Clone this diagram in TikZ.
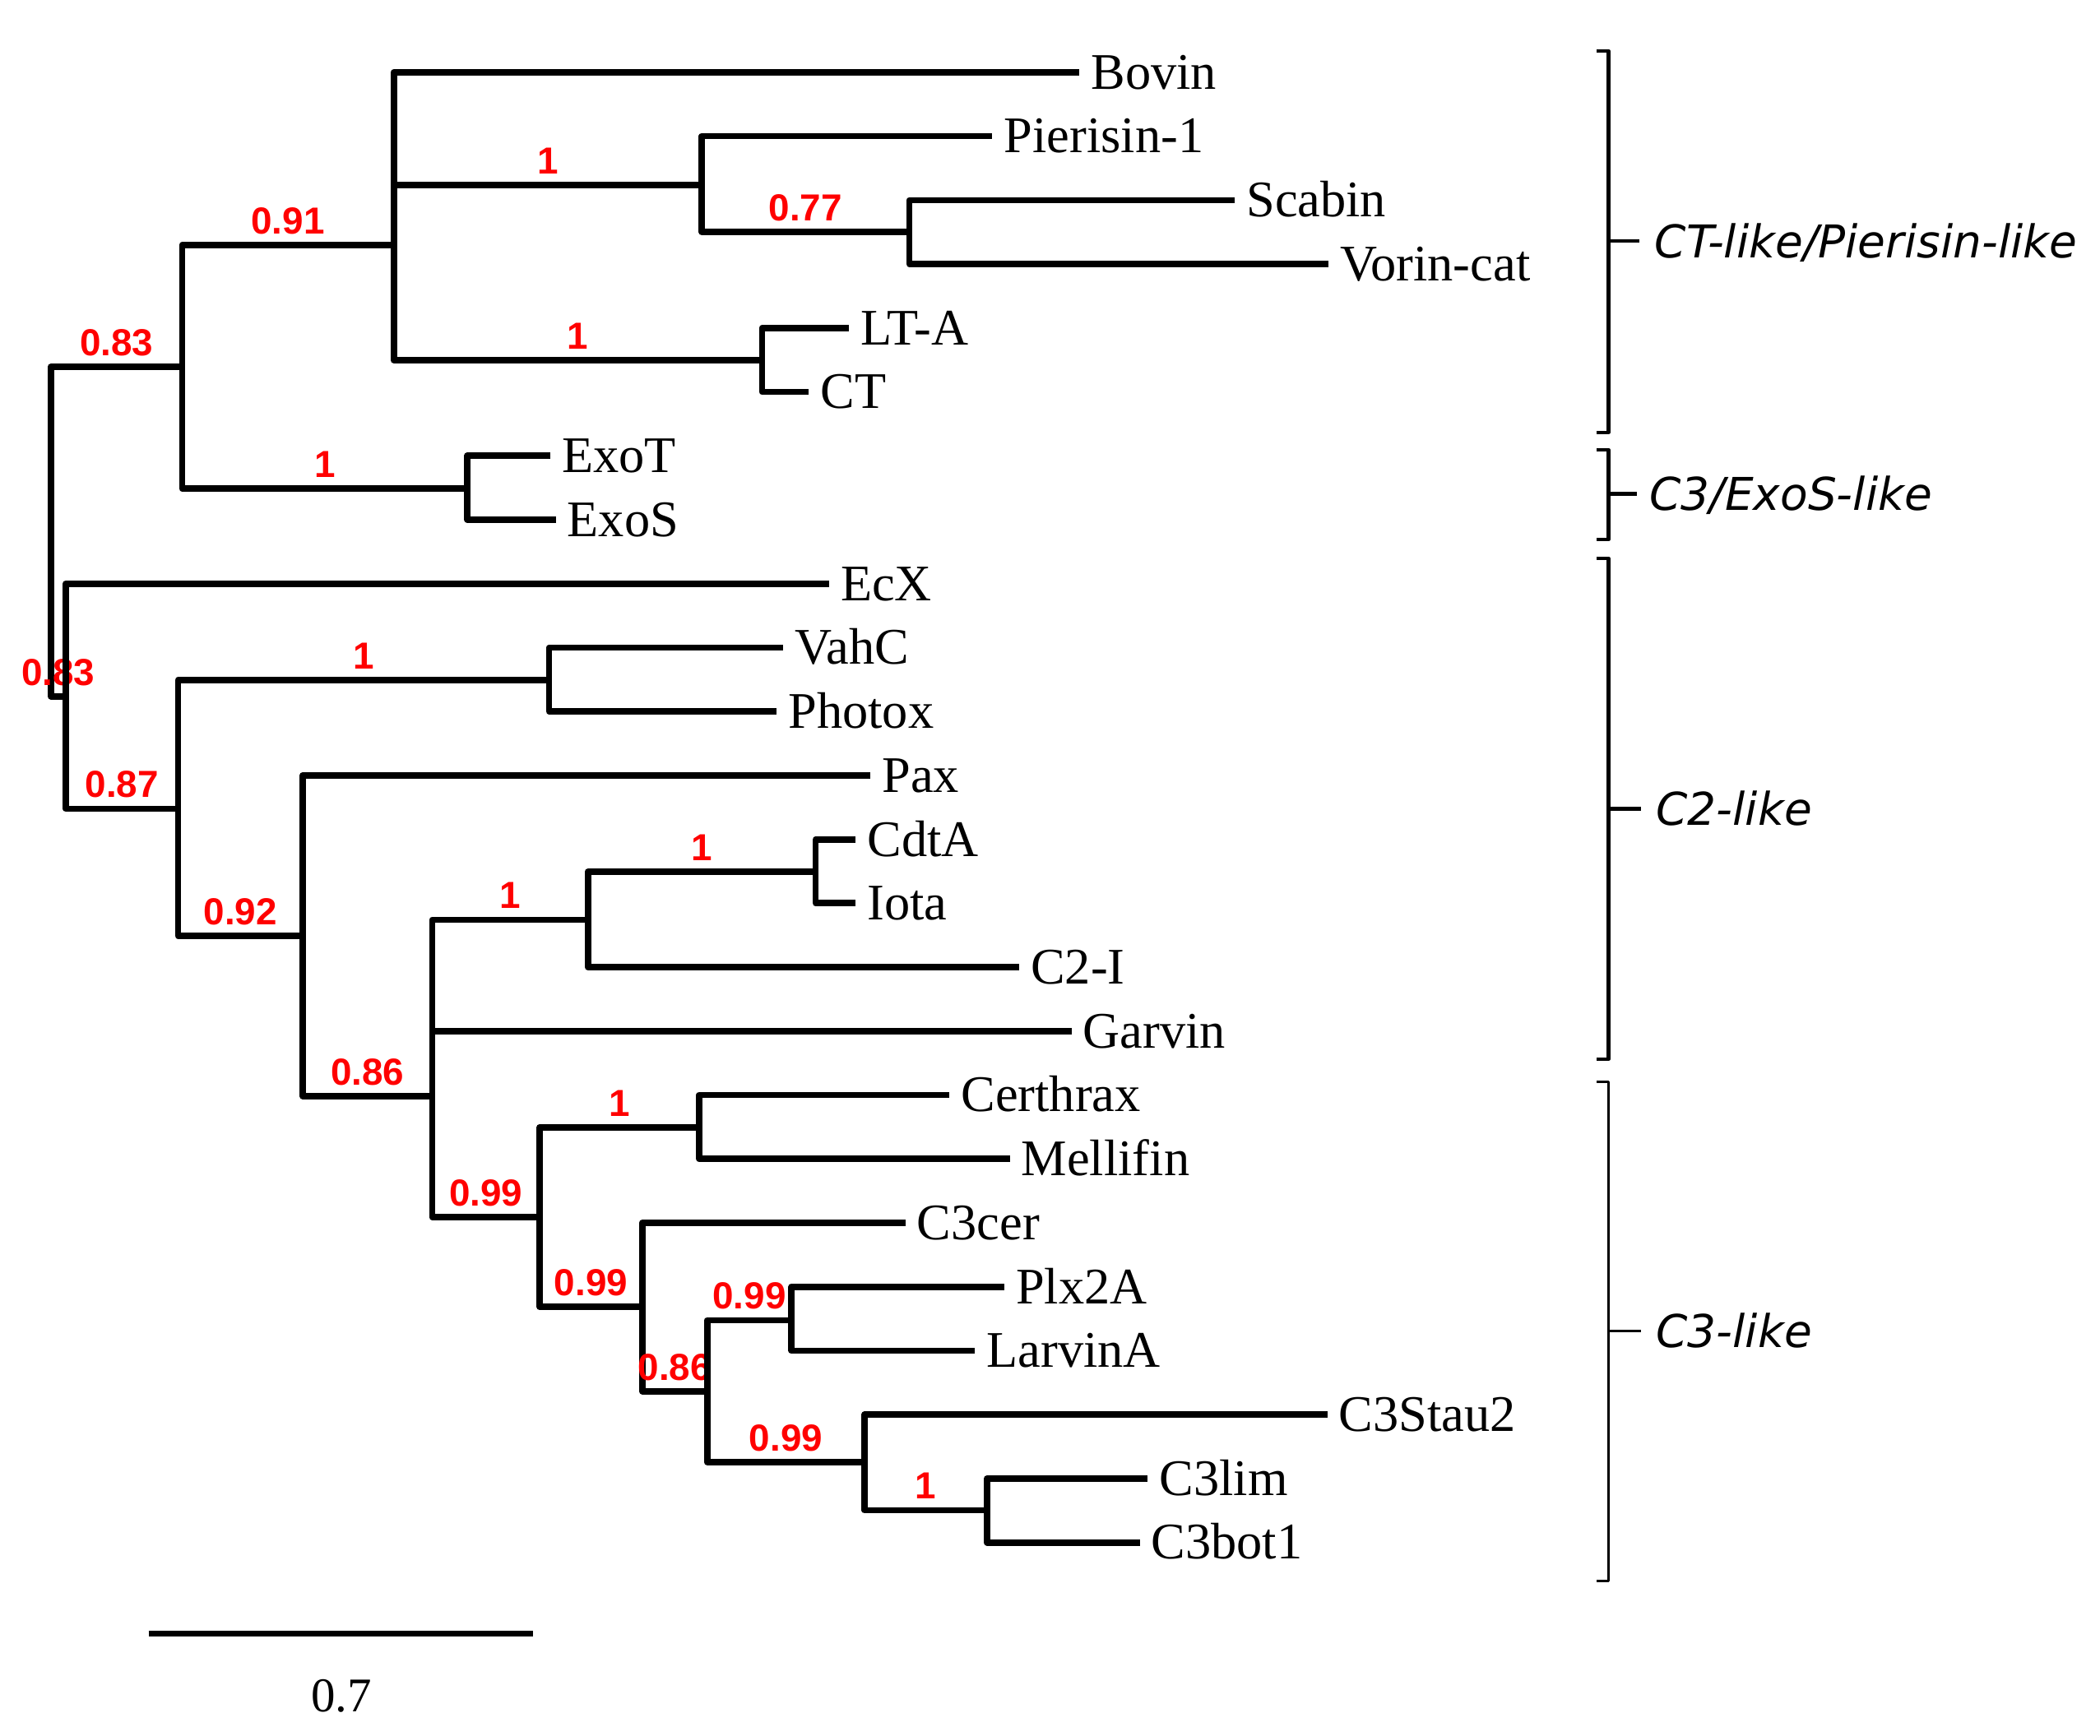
\documentclass[tikz,border=0pt]{standalone}
\usepackage{fontspec}
\setmainfont{Liberation Serif}
\newfontfamily\numfont{Liberation Sans}
\newfontfamily\cladefont{DejaVu Sans}
\begin{document}
\begin{tikzpicture}[x=0.1mm, y=-0.1mm,
  br/.style={line width=1.35pt, line join=round},
  brk/.style={line width=0.8pt, line join=round},
  brkthin/.style={line width=0.55pt, line join=round},
  leaf/.style={anchor=west, inner xsep=0.8mm, inner ysep=0pt,
    font=\fontsize{10.9}{12}\selectfont, text height=7.1pt, text depth=0pt},
  bsup/.style={pos=0.75, anchor=south, inner sep=0pt, yshift=0.6mm, text=red,
    font=\numfont\bfseries\fontsize{8}{9}\selectfont, text height=5.8pt, text depth=0pt},
  clade/.style={anchor=west, inner xsep=1.1mm, inner ysep=0pt,
    font=\cladefont\itshape\fontsize{9.6}{11}\selectfont, text height=7pt, text depth=0pt},
  scalelab/.style={inner sep=0pt, font=\fontsize{10.3}{12}\selectfont, text height=6.8pt, text depth=0pt}
]
\useasboundingbox (0,0) rectangle (1568,1296);

% internal nodes (x of node, y of incoming branch)
\coordinate (root)  at (38,397);
\coordinate (nA)    at (136,274);
\coordinate (n091)  at (294,183);
\coordinate (nPier) at (524,138);
\coordinate (nSV)   at (679,173);
\coordinate (nLTCT) at (569,269);
\coordinate (nExo)  at (349,365);
\coordinate (nB)    at (49,520);
\coordinate (n087)  at (133,604);
\coordinate (nVP)   at (410,508);
\coordinate (n092)  at (226,699);
\coordinate (n086)  at (322.7,818.5);
\coordinate (nC2)   at (439,687);
\coordinate (nCI)   at (609,651);
\coordinate (n099a) at (403,909);
\coordinate (nCM)   at (522,842);
\coordinate (n099b) at (479.5,976);
\coordinate (n086b) at (528,1039);
\coordinate (nPL)   at (591,986);
\coordinate (n099d) at (645.6,1092);
\coordinate (nC3C)  at (737,1128);

% leaves
\node[leaf] (bovin)    at (806,54)     {Bovin};
\node[leaf] (pierisin) at (741,101.7)  {Pierisin-1};
\node[leaf] (scabin)   at (922,149.5)  {Scabin};
\node[leaf] (vorin)    at (992,197.2)  {Vorin-cat};
\node[leaf] (lta)      at (634,245)    {LT-A};
\node[leaf] (ct)       at (604,292.7)  {CT};
\node[leaf] (exot)     at (411,340.4)  {ExoT};
\node[leaf] (exos)     at (415,388.2)  {ExoS};
\node[leaf] (ecx)      at (619,435.9)  {EcX};
\node[leaf] (vahc)     at (585,483.7)  {VahC};
\node[leaf] (photox)   at (580,531.4)  {Photox};
\node[leaf] (pax)      at (650,579.1)  {Pax};
\node[leaf] (cdta)     at (639,626.9)  {CdtA};
\node[leaf] (iota)     at (639,674.6)  {Iota};
\node[leaf] (c2i)      at (761,722.4)  {C2-I};
\node[leaf] (garvin)   at (800,770.1)  {Garvin};
\node[leaf] (certhrax) at (709,817.8)  {Certhrax};
\node[leaf] (mellifin) at (754,865.6)  {Mellifin};
\node[leaf] (c3cer)    at (676,913.3)  {C3cer};
\node[leaf] (plx2a)    at (750,961.1)  {Plx2A};
\node[leaf] (larvina)  at (728,1008.8) {LarvinA};
\node[leaf] (c3stau2)  at (991,1056.5) {C3Stau2};
\node[leaf] (c3lim)    at (857,1104.3) {C3lim};
\node[leaf] (c3bot1)   at (851,1152)   {C3bot1};

% branches
\draw[br] (root) |- node[bsup]{0.83} (nA);
\draw[br] (root) |- node[bsup]{0.83} (nB);
\draw[br] (nA) |- node[bsup]{0.91} (n091);
\draw[br] (nA) |- node[bsup]{1} (nExo);
\draw[br] (n091) |- (bovin.west);
\draw[br] (n091) |- node[bsup]{1} (nPier);
\draw[br] (n091) |- node[bsup]{1} (nLTCT);
\draw[br] (nPier) |- (pierisin.west);
\draw[br] (nPier) |- node[bsup]{0.77} (nSV);
\draw[br] (nSV) |- (scabin.west);
\draw[br] (nSV) |- (vorin.west);
\draw[br] (nLTCT) |- (lta.west);
\draw[br] (nLTCT) |- (ct.west);
\draw[br] (nExo) |- (exot.west);
\draw[br] (nExo) |- (exos.west);
\draw[br] (nB) |- (ecx.west);
\draw[br] (nB) |- node[bsup]{0.87} (n087);
\draw[br] (n087) |- node[bsup]{1} (nVP);
\draw[br] (n087) |- node[bsup]{0.92} (n092);
\draw[br] (nVP) |- (vahc.west);
\draw[br] (nVP) |- (photox.west);
\draw[br] (n092) |- (pax.west);
\draw[br] (n092) |- node[bsup]{0.86} (n086);
\draw[br] (n086) |- node[bsup]{1} (nC2);
\draw[br] (n086) |- (garvin.west);
\draw[br] (n086) |- node[bsup]{0.99} (n099a);
\draw[br] (nC2) |- node[bsup]{1} (nCI);
\draw[br] (nC2) |- (c2i.west);
\draw[br] (nCI) |- (cdta.west);
\draw[br] (nCI) |- (iota.west);
\draw[br] (n099a) |- node[bsup]{1} (nCM);
\draw[br] (n099a) |- node[bsup]{0.99} (n099b);
\draw[br] (nCM) |- (certhrax.west);
\draw[br] (nCM) |- (mellifin.west);
\draw[br] (n099b) |- (c3cer.west);
\draw[br] (n099b) |- node[bsup]{0.86} (n086b);
\draw[br] (n086b) |- node[bsup]{0.99} (nPL);
\draw[br] (n086b) |- node[bsup]{0.99} (n099d);
\draw[br] (nPL) |- (plx2a.west);
\draw[br] (nPL) |- (larvina.west);
\draw[br] (n099d) |- (c3stau2.west);
\draw[br] (n099d) |- node[bsup]{1} (nC3C);
\draw[br] (nC3C) |- (c3lim.west);
\draw[br] (nC3C) |- (c3bot1.west);

% clade brackets
\draw[brk] (1192,38) -- (1201,38) -- (1201,323) -- (1192,323);
\coordinate (t1) at (1201,180);
\node[clade] (cl1) at (1224,180) {CT-like/Pierisin-like};
\draw[brk] (t1) -- (cl1.west);

\draw[brk] (1192,336) -- (1201,336) -- (1201,403) -- (1192,403);
\coordinate (t2) at (1201,369);
\node[clade, inner xsep=0.9mm] (cl2) at (1222,369) {C3/ExoS-like};
\draw[brk] (t2) -- (cl2.west);

\draw[brk] (1192,417) -- (1201,417) -- (1201,791) -- (1192,791);
\coordinate (t3) at (1201,604);
\node[clade] (cl3) at (1225,604) {C2-like};
\draw[brk] (t3) -- (cl3.west);

\draw[brkthin] (1192,808) -- (1201,808) -- (1201,1181) -- (1192,1181);
\coordinate (t4) at (1201,994);
\node[clade] (cl4) at (1225,994) {C3-like};
\draw[brkthin] (t4) -- (cl4.west);

% scale bar
\coordinate (sbL) at (111,1220);
\coordinate (sbR) at (398,1220);
\draw[br] (sbL) -- (sbR);
\node[scalelab] (sblab) at (255,1266.5) {0.7};
\end{tikzpicture}
\end{document}
